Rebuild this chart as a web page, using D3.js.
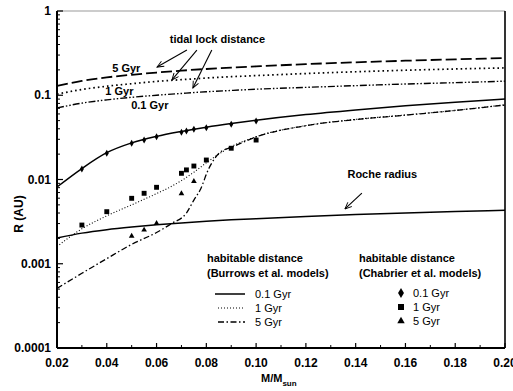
<!DOCTYPE html>
<html><head><meta charset="utf-8">
<script src="https://cdn.jsdelivr.net/npm/d3@7"></script>
<style>
body{margin:0;background:#fff;}
svg{display:block;font-family:"Liberation Sans",Arial,sans-serif;}
</style></head>
<body><svg id="c" width="513" height="391"></svg>
<script>
// ---- data ----
const xTicks = [0.02,0.04,0.06,0.08,0.10,0.12,0.14,0.16,0.18,0.20];
const xTickLabels = ["0.02","0.04","0.06","0.08","0.10","0.12","0.14","0.16","0.18","0.20"];
const yTicks = [1,0.1,0.01,0.001,0.0001];
const yTickLabels = ["1","0.1","0.01","0.001","0.0001"];

const gridMass = [0.02,0.03,0.04,0.05,0.06,0.07,0.08,0.09,0.1,0.12,0.14,0.16,0.18,0.2];
const tidal5Gyr  = [0.129,0.148,0.163,0.175,0.186,0.196,0.205,0.213,0.220,0.234,0.246,0.257,0.267,0.276];
const tidal1Gyr  = [0.103,0.117,0.128,0.137,0.146,0.153,0.160,0.166,0.171,0.181,0.190,0.198,0.205,0.211];
const tidal01Gyr = [0.0706,0.0806,0.0882,0.0945,0.100,0.105,0.110,0.114,0.118,0.124,0.130,0.136,0.141,0.147];
const rocheRadius = [0.00202,0.00231,0.00254,0.00273,0.0029,0.00305,0.00319,0.00332,0.00343,0.00365,0.00384,0.00401,0.00417,0.00432];
const hab01Gyr = [0.00815,0.0135,0.0208,0.0272,0.0325,0.0372,0.0418,0.0462,0.0505,0.059,0.067,0.075,0.0825,0.090];

const hab1Mass = [0.02,0.03,0.04,0.05,0.06,0.065,0.07,0.075,0.08,0.085,0.09,0.1,0.12,0.14,0.16,0.18,0.2];
const hab1Gyr  = [0.0016,0.0026,0.0037,0.0050,0.0068,0.0080,0.0097,0.0122,0.0158,0.0200,0.0245,0.0322,0.0437,0.0517,0.0583,0.0662,0.0770];

const hab5Mass = [0.02,0.03,0.04,0.05,0.06,0.066,0.072,0.075,0.0775,0.081,0.0855,0.09,0.1,0.12,0.14,0.16,0.18,0.2];
const hab5Gyr  = [0.00051,0.00077,0.00115,0.0017,0.00235,0.0030,0.0040,0.0057,0.0075,0.0135,0.021,0.024,0.032,0.0435,0.0515,0.058,0.066,0.0766];

const chabMass = [0.03,0.04,0.05,0.055,0.06,0.07,0.072,0.075,0.08,0.09,0.1];
const chab01Gyr = [0.0133,0.0205,0.0269,0.0294,0.0322,0.0363,0.0376,0.0394,0.0412,0.0452,0.0494];
const chab1Gyr  = [0.00288,0.00415,0.00598,0.00686,0.00808,0.01184,0.0130,0.01445,0.01703,0.0235,0.0294];
const chab5Mass = [0.05,0.055,0.06,0.07,0.075];
const chab5Gyr  = [0.00213,0.00252,0.00302,0.0068,0.0095];

// annotations in data units
const tidalLabels = [
  {text:"5 Gyr", m:0.0422, r:0.188},
  {text:"1 Gyr", m:0.0394, r:0.100},
  {text:"0.1 Gyr", m:0.0498, r:0.069}
];
const tidalArrows = [
  {m0:0.0722,r0:0.344,m1:0.0602,r1:0.216},
  {m0:0.0762,r0:0.344,m1:0.0662,r1:0.152},
  {m0:0.0822,r0:0.344,m1:0.0746,r1:0.122}
];
const rocheArrow = {m0:0.1425,r0:0.0069,m1:0.1357,r1:0.00447};

// ---- layout ----
const svg = d3.select("#c");
const L=57,R=505,T=11,B=348;
const x = d3.scaleLinear().domain([0.02,0.2]).range([L,R]);
const y = d3.scaleLog().domain([0.0001,1]).range([B,T]);

const defs = svg.append("defs");
defs.append("marker").attr("id","arr").attr("viewBox","-10 -6 12 12")
  .attr("refX",0).attr("refY",0).attr("markerWidth",10).attr("markerHeight",10)
  .attr("orient","auto").attr("markerUnits","userSpaceOnUse")
  .append("path").attr("d","M-8,-3.5 L0,0 L-8,3.5").attr("fill","none")
  .attr("stroke","#000").attr("stroke-width",1.1);

// frame
svg.append("line").attr("x1",L).attr("x2",R).attr("y1",T).attr("y2",T).attr("stroke","#999").attr("stroke-width",1);
svg.append("line").attr("x1",R).attr("x2",R).attr("y1",T).attr("y2",B).attr("stroke","#000").attr("stroke-width",1.6);
svg.append("line").attr("x1",L).attr("x2",L).attr("y1",T).attr("y2",B).attr("stroke","#000").attr("stroke-width",2);
svg.append("line").attr("x1",L).attr("x2",R).attr("y1",B).attr("y2",B).attr("stroke","#000").attr("stroke-width",2);

// y ticks (inside)
const yMinor = [];
for (let e=-4;e<0;e++) for (let k=2;k<=9;k++) yMinor.push(k*Math.pow(10,e));
svg.append("g").selectAll("line").data(yMinor).join("line")
  .attr("x1",L).attr("x2",L+3).attr("y1",d=>y(d)).attr("y2",d=>y(d)).attr("stroke","#000").attr("stroke-width",1);
svg.append("g").selectAll("line").data(yTicks).join("line")
  .attr("x1",L).attr("x2",L+6).attr("y1",d=>y(d)).attr("y2",d=>y(d)).attr("stroke","#000").attr("stroke-width",1.2);
svg.append("g").selectAll("text").data(yTicks).join("text")
  .attr("x",L-6).attr("y",d=>y(d)+4).attr("text-anchor","end")
  .attr("font-size",12).attr("font-weight","bold").text((d,i)=>yTickLabels[i]);

// x ticks (inside)
const xMinor = d3.range(0.03,0.2,0.02);
svg.append("g").selectAll("line").data(xMinor).join("line")
  .attr("x1",d=>x(d)).attr("x2",d=>x(d)).attr("y1",B).attr("y2",B-3).attr("stroke","#000").attr("stroke-width",1);
svg.append("g").selectAll("line").data(xTicks).join("line")
  .attr("x1",d=>x(d)).attr("x2",d=>x(d)).attr("y1",B).attr("y2",B-5).attr("stroke","#000").attr("stroke-width",1.2);
svg.append("g").selectAll("text").data(xTicks).join("text")
  .attr("x",d=>x(d)).attr("y",B+19).attr("text-anchor","middle")
  .attr("font-size",12).attr("font-weight","bold").text((d,i)=>xTickLabels[i]);

// axis titles
const xt = svg.append("text").attr("x",261).attr("y",382).attr("font-size",11).attr("font-weight","bold");
xt.append("tspan").text("M/M");
xt.append("tspan").attr("font-size",8).attr("dy",4).text("sun");
svg.append("text").attr("transform","translate(23,214) rotate(-90)").attr("text-anchor","middle")
  .attr("font-size",12).attr("font-weight","bold").text("R (AU)");

// curves
const line = (ms)=>d3.line().x((d,i)=>x(ms[i])).y(d=>y(d)).curve(d3.curveMonotoneX);
function drawCurve(ms, vals, dash, w){
  svg.append("path").datum(vals).attr("d",line(ms)).attr("fill","none")
    .attr("stroke","#000").attr("stroke-width",w).attr("stroke-dasharray",dash);
}
drawCurve(gridMass, tidal5Gyr, "11,4", 1.8);
drawCurve(gridMass, tidal1Gyr, "1.6,3", 1.7);
drawCurve(gridMass, tidal01Gyr, "7,2,1.5,2,1.5,2", 1.4);
drawCurve(gridMass, rocheRadius, null, 1.5);
drawCurve(gridMass, hab01Gyr, null, 1.5);
drawCurve(hab1Mass, hab1Gyr, "1,2", 1.1);
drawCurve(hab5Mass, hab5Gyr, "6,2.5,1.5,2.5", 1.3);

// points
const sym = (type,size)=>d3.symbol().type(type).size(size)();
svg.append("g").selectAll("path").data(chab01Gyr).join("path")
  .attr("transform",(d,i)=>`translate(${x(chabMass[i])},${y(d)})`).attr("d",sym(d3.symbolDiamond,14));
svg.append("g").selectAll("path").data(chab1Gyr).join("path")
  .attr("transform",(d,i)=>`translate(${x(chabMass[i])},${y(d)})`).attr("d",sym(d3.symbolSquare,24));
svg.append("g").selectAll("path").data(chab5Gyr).join("path")
  .attr("transform",(d,i)=>`translate(${x(chab5Mass[i])},${y(d)})`).attr("d",sym(d3.symbolTriangle,14));

// annotations
svg.append("text").attr("x",x(0.0653)).attr("y",y(0.42)).attr("font-size",11).attr("font-weight","bold").text("tidal lock distance");
svg.append("g").selectAll("text").data(tidalLabels).join("text")
  .attr("x",d=>x(d.m)).attr("y",d=>y(d.r)).attr("font-size",11).attr("font-weight","bold").text(d=>d.text);
svg.append("g").selectAll("line").data(tidalArrows).join("line")
  .attr("x1",d=>x(d.m0)).attr("y1",d=>y(d.r0)).attr("x2",d=>x(d.m1)).attr("y2",d=>y(d.r1))
  .attr("stroke","#000").attr("stroke-width",1.1).attr("marker-end","url(#arr)");
svg.append("text").attr("x",x(0.1367)).attr("y",y(0.0104)).attr("font-size",11).attr("font-weight","bold").text("Roche radius");
svg.append("line").attr("x1",x(rocheArrow.m0)).attr("y1",y(rocheArrow.r0)).attr("x2",x(rocheArrow.m1)).attr("y2",y(rocheArrow.r1))
  .attr("stroke","#000").attr("stroke-width",1.1).attr("marker-end","url(#arr)");

// legend
const lg = svg.append("g");
lg.append("text").attr("x",207).attr("y",262).attr("font-size",11).attr("font-weight","bold").text("habitable distance");
lg.append("text").attr("x",207).attr("y",277).attr("font-size",11).attr("font-weight","bold").text("(Burrows et al. models)");
lg.append("text").attr("x",359).attr("y",262).attr("font-size",11).attr("font-weight","bold").text("habitable distance");
lg.append("text").attr("x",359).attr("y",277).attr("font-size",11).attr("font-weight","bold").text("(Chabrier et al. models)");
const legLines = [
  {label:"0.1 Gyr", dash:null, w:1.5, x1:215},
  {label:"1 Gyr", dash:"1,2", w:1.1, x1:218},
  {label:"5 Gyr", dash:"6,2.5,1.5,2.5", w:1.3, x1:218}
];
legLines.forEach((d,i)=>{
  const yy = 294 + i*14;
  lg.append("line").attr("x1",d.x1).attr("x2",245).attr("y1",yy).attr("y2",yy)
    .attr("stroke","#000").attr("stroke-width",d.w).attr("stroke-dasharray",d.dash);
  lg.append("text").attr("x",255).attr("y",yy+4).attr("font-size",11).text(d.label);
});
const legSyms = [
  {label:"0.1 Gyr", t:d3.symbolDiamond, s:30},
  {label:"1 Gyr", t:d3.symbolSquare, s:36},
  {label:"5 Gyr", t:d3.symbolTriangle, s:24}
];
legSyms.forEach((d,i)=>{
  const yy = 293 + i*14;
  lg.append("path").attr("transform",`translate(401,${yy})`).attr("d",sym(d.t,d.s));
  lg.append("text").attr("x",413).attr("y",yy+4).attr("font-size",11).text(d.label);
});
</script></body></html>
